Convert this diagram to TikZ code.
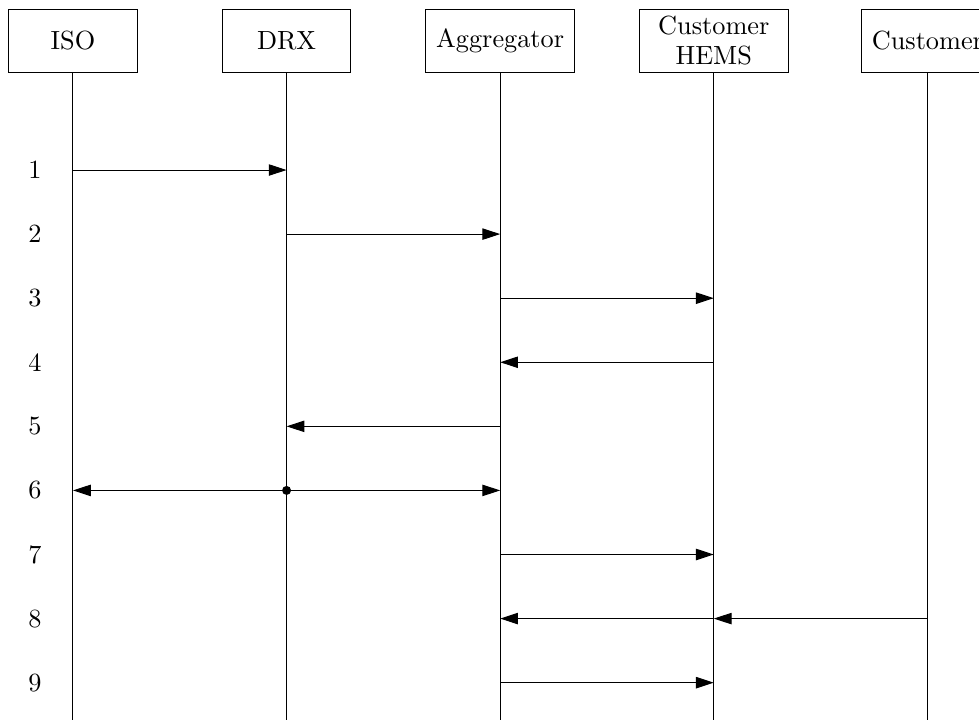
\documentclass[tikz,border=0pt]{standalone}
\usetikzlibrary{arrows.meta}

\tikzset{
  actor/.style={draw, align=center, inner xsep=4pt, inner ysep=2pt, minimum width=1.8cm, minimum height=0.89cm},
  wide/.style={minimum width=2.1cm},
  msg/.style={-{Triangle[length=2.5mm, width=1.6mm]}},
}

\begin{document}
\begin{tikzpicture}[font=\fontsize{10.5pt}{12pt}\selectfont]
		% Frame of the picture (the last box runs off the right edge)
		\clip (0,0) rectangle (13.75,-10.11);
		\coordinate (bottom) at (0,-10.11);
		
		% Actors along the top
		\node[actor] (iso) at (1.025,-0.576) {ISO};
		\node[actor] (drx) at (4.025,-0.576) {DRX};
		\node[actor, wide] (agg) at (7.025,-0.576) {Aggregator};
		\node[actor, wide] (hems) at (10.025,-0.576) {Customer\\HEMS};
		\node[actor] (cust) at (13.025,-0.576) {Customer};
		
		% Lifelines
		\foreach \a in {iso,drx,agg,hems,cust}
			\draw (\a.south) -- (\a |- bottom);
		
		% Step numbers
		\foreach \i in {1,...,9}
			\node (r\i) at (0.49,{-2.388-0.9*(\i-1)}) {\i};
		
		% Messages
		\draw[msg] (iso |- r1) -- (drx |- r1);
		\draw[msg] (drx |- r2) -- (agg |- r2);
		\draw[msg] (agg |- r3) -- (hems |- r3);
		\draw[msg] (hems |- r4) -- (agg |- r4);
		\draw[msg] (agg |- r5) -- (drx |- r5);
		
		% DRX sends to both sides
		\fill (drx |- r6) circle (1.8pt);
		\draw[msg] (drx |- r6) -- (iso |- r6);
		\draw[msg] (drx |- r6) -- (agg |- r6);
		
		\draw[msg] (agg |- r7) -- (hems |- r7);
		\draw[msg] (cust |- r8) -- (hems |- r8);
		\draw[msg] (hems |- r8) -- (agg |- r8);
		\draw[msg] (agg |- r9) -- (hems |- r9);
		
	\end{tikzpicture}
\end{document}
